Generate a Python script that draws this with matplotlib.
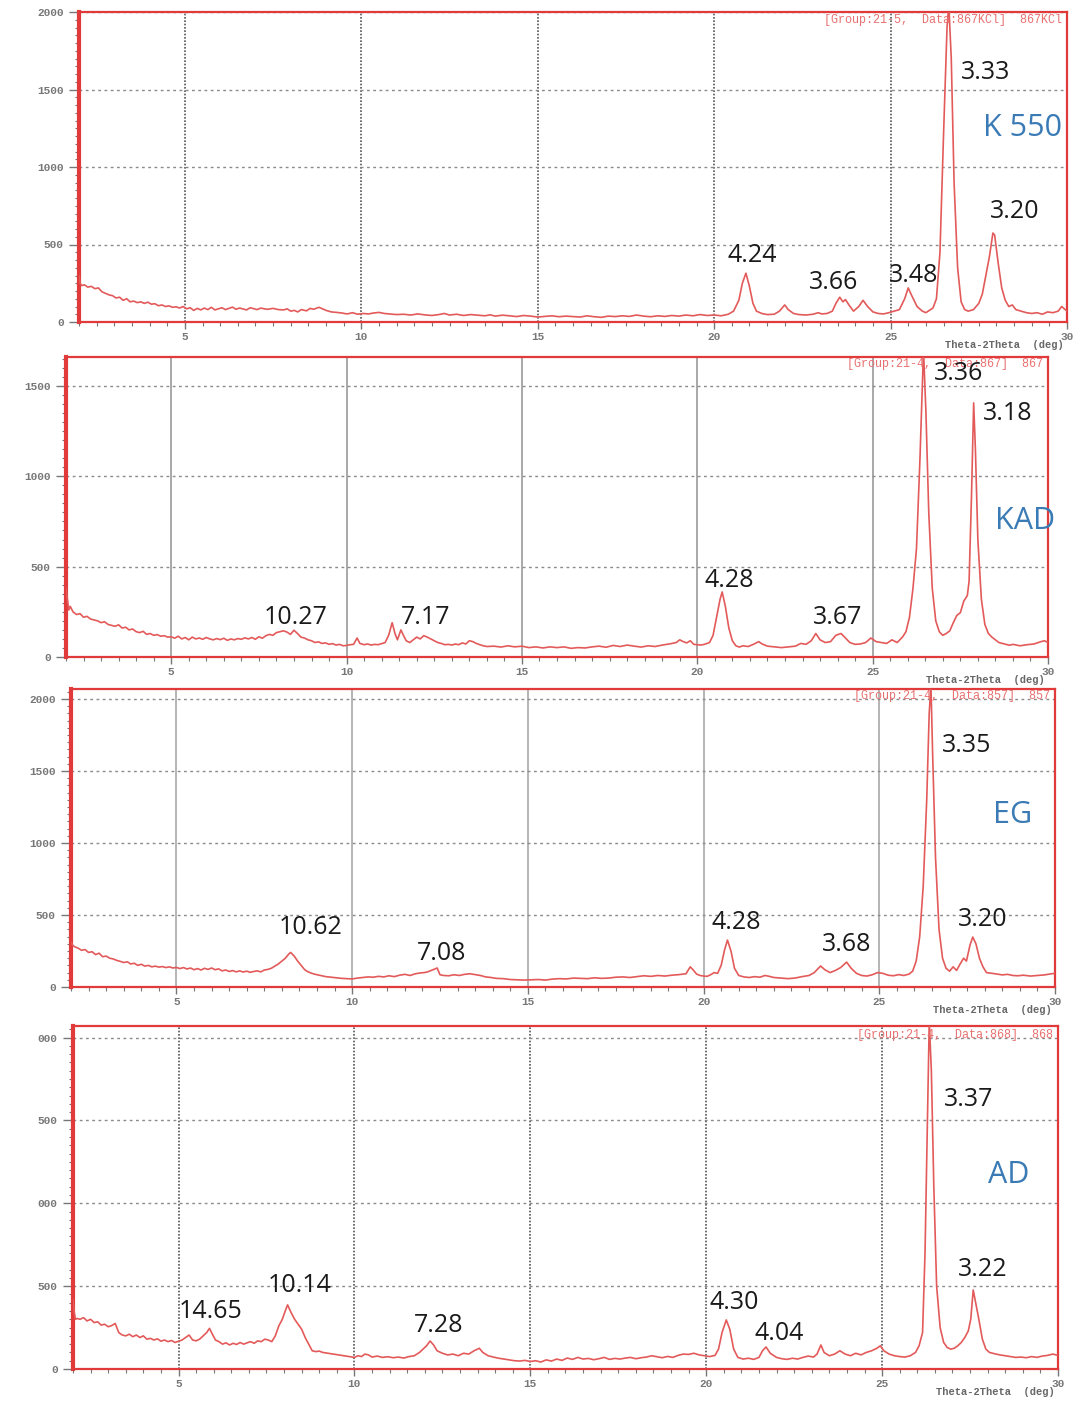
import matplotlib.pyplot as plt
from matplotlib.ticker import MultipleLocator

# XRD patterns: (2theta in deg, counts)
k550 = [(2.00, 300), (2.03, 250), (2.08, 235), (2.15, 240), (2.25, 225), (2.35, 230), (2.45, 215),
        (2.55, 220), (2.65, 195), (2.75, 185), (2.85, 175), (2.95, 170), (3.05, 155), (3.15, 160),
        (3.25, 140), (3.35, 150), (3.45, 130), (3.55, 135), (3.65, 125), (3.75, 130), (3.85, 120),
        (3.95, 128), (4.05, 115), (4.15, 118), (4.25, 105), (4.35, 110), (4.45, 100), (4.55, 104),
        (4.65, 95), (4.75, 98), (4.85, 90), (4.95, 100), (5.05, 85), (5.15, 92), (5.25, 75),
        (5.35, 88), (5.45, 78), (5.55, 90), (5.65, 80), (5.75, 95), (5.85, 78), (5.95, 85),
        (6.05, 92), (6.15, 80), (6.25, 88), (6.35, 96), (6.45, 82), (6.55, 90), (6.65, 84),
        (6.75, 78), (6.85, 92), (6.95, 86), (7.05, 80), (7.15, 90), (7.25, 85), (7.35, 82),
        (7.5, 88), (7.65, 80), (7.8, 78), (7.9, 85), (8.0, 70), (8.1, 75), (8.2, 65), (8.3, 80),
        (8.45, 72), (8.55, 88), (8.65, 82), (8.8, 95), (8.9, 85), (9.0, 75), (9.15, 65),
        (9.3, 62), (9.45, 58), (9.6, 52), (9.75, 60), (9.9, 50), (10.05, 55), (10.2, 52),
        (10.35, 58), (10.5, 62), (10.65, 55), (10.8, 52), (11.0, 48), (11.2, 50), (11.4, 45),
        (11.6, 52), (11.8, 46), (12.0, 42), (12.2, 48), (12.35, 55), (12.5, 45), (12.7, 50),
        (12.9, 42), (13.1, 48), (13.3, 44), (13.5, 40), (13.65, 46), (13.8, 38), (14.0, 44),
        (14.2, 40), (14.4, 35), (14.6, 42), (14.8, 38), (15.0, 32), (15.2, 36), (15.4, 40),
        (15.6, 34), (15.8, 38), (16.0, 35), (16.2, 32), (16.4, 40), (16.6, 34), (16.8, 30),
        (17.0, 38), (17.2, 35), (17.4, 40), (17.6, 36), (17.8, 45), (18.0, 38), (18.2, 34),
        (18.4, 40), (18.6, 36), (18.8, 42), (19.0, 38), (19.2, 45), (19.4, 40), (19.6, 48),
        (19.8, 42), (20.0, 45), (20.2, 40), (20.4, 50), (20.55, 70), (20.7, 140), (20.8, 250),
        (20.9, 315), (21.0, 230), (21.1, 120), (21.2, 70), (21.35, 55), (21.5, 48), (21.7, 50),
        (21.85, 70), (22.0, 110), (22.1, 80), (22.25, 55), (22.4, 48), (22.6, 45), (22.8, 50),
        (22.95, 60), (23.05, 52), (23.2, 55), (23.35, 70), (23.45, 120), (23.56, 160),
        (23.65, 130), (23.72, 145), (23.82, 110), (23.95, 70), (24.1, 100), (24.22, 140),
        (24.35, 100), (24.5, 65), (24.65, 55), (24.8, 52), (24.95, 60), (25.1, 70), (25.25, 80),
        (25.4, 150), (25.5, 220), (25.6, 170), (25.75, 100), (25.9, 70), (26.0, 60), (26.1, 75),
        (26.2, 90), (26.3, 150), (26.4, 450), (26.5, 1200), (26.6, 1900), (26.65, 2050),
        (26.72, 1700), (26.8, 900), (26.9, 350), (27.0, 130), (27.1, 80), (27.2, 70),
        (27.35, 80), (27.5, 120), (27.6, 180), (27.7, 300), (27.8, 420), (27.9, 574),
        (27.95, 560), (28.05, 380), (28.15, 220), (28.25, 140), (28.35, 100), (28.45, 110),
        (28.55, 80), (28.7, 70), (28.85, 60), (29.0, 55), (29.15, 60), (29.3, 50), (29.45, 65),
        (29.6, 60), (29.75, 70), (29.85, 100), (29.95, 80), (30.0, 70)]

kad = [(2.00, 380), (2.04, 320), (2.08, 260), (2.12, 280), (2.2, 250), (2.3, 235), (2.4, 240),
       (2.5, 220), (2.6, 225), (2.7, 210), (2.8, 205), (2.9, 200), (3.0, 190), (3.1, 195),
       (3.2, 180), (3.3, 175), (3.4, 170), (3.5, 178), (3.6, 160), (3.7, 165), (3.8, 150),
       (3.9, 155), (4.0, 140), (4.1, 135), (4.2, 142), (4.3, 125), (4.4, 130), (4.5, 120),
       (4.6, 124), (4.7, 115), (4.8, 118), (4.9, 110), (5.0, 112), (5.1, 104), (5.2, 115),
       (5.3, 100), (5.4, 108), (5.5, 95), (5.6, 110), (5.7, 100), (5.8, 105), (5.9, 98),
       (6.0, 108), (6.1, 100), (6.2, 95), (6.3, 102), (6.4, 96), (6.5, 104), (6.6, 92),
       (6.7, 100), (6.8, 95), (6.9, 102), (7.0, 98), (7.1, 106), (7.2, 100), (7.3, 108),
       (7.4, 98), (7.5, 112), (7.6, 104), (7.7, 118), (7.8, 125), (7.9, 120), (8.0, 135),
       (8.1, 140), (8.2, 145), (8.3, 138), (8.4, 125), (8.5, 148), (8.6, 130), (8.7, 110),
       (8.8, 105), (8.9, 95), (9.0, 90), (9.1, 80), (9.2, 84), (9.3, 75), (9.4, 78), (9.5, 70),
       (9.6, 74), (9.7, 66), (9.8, 70), (9.9, 62), (10.0, 64), (10.1, 68), (10.2, 70),
       (10.3, 105), (10.38, 75), (10.5, 68), (10.6, 72), (10.7, 66), (10.8, 70), (10.9, 68),
       (11.0, 74), (11.1, 80), (11.2, 120), (11.3, 190), (11.38, 130), (11.45, 95),
       (11.55, 150), (11.62, 120), (11.7, 90), (11.8, 80), (11.9, 95), (12.0, 110),
       (12.1, 100), (12.2, 118), (12.3, 110), (12.4, 100), (12.5, 90), (12.6, 80), (12.7, 75),
       (12.8, 68), (12.9, 70), (13.0, 66), (13.1, 72), (13.2, 68), (13.3, 78), (13.4, 72),
       (13.5, 90), (13.6, 85), (13.7, 75), (13.8, 68), (13.9, 62), (14.0, 58), (14.2, 60),
       (14.4, 55), (14.6, 62), (14.8, 56), (15.0, 60), (15.2, 52), (15.4, 56), (15.6, 50),
       (15.8, 56), (16.0, 52), (16.2, 56), (16.4, 48), (16.6, 52), (16.8, 50), (17.0, 56),
       (17.2, 60), (17.4, 54), (17.6, 64), (17.8, 58), (18.0, 66), (18.2, 60), (18.4, 55),
       (18.6, 62), (18.8, 58), (19.0, 66), (19.2, 72), (19.4, 80), (19.5, 95), (19.6, 85),
       (19.7, 78), (19.8, 90), (19.9, 70), (20.0, 68), (20.1, 66), (20.2, 70), (20.35, 80),
       (20.45, 120), (20.55, 220), (20.65, 320), (20.71, 360), (20.8, 280), (20.9, 160),
       (21.0, 90), (21.1, 62), (21.2, 55), (21.3, 62), (21.45, 58), (21.6, 70), (21.75, 85),
       (21.85, 72), (22.0, 60), (22.2, 56), (22.4, 52), (22.6, 56), (22.8, 60), (22.95, 75),
       (23.1, 70), (23.25, 90), (23.38, 130), (23.5, 95), (23.65, 80), (23.8, 85),
       (23.95, 120), (24.1, 130), (24.2, 110), (24.35, 80), (24.5, 70), (24.65, 72),
       (24.8, 80), (24.95, 105), (25.1, 85), (25.25, 80), (25.4, 75), (25.55, 95), (25.7, 80),
       (25.85, 110), (25.95, 140), (26.05, 220), (26.15, 380), (26.25, 600), (26.35, 1100),
       (26.45, 1700), (26.52, 1350), (26.6, 800), (26.7, 380), (26.8, 200), (26.9, 140),
       (27.0, 120), (27.1, 130), (27.2, 145), (27.3, 190), (27.4, 230), (27.5, 245),
       (27.6, 310), (27.7, 340), (27.75, 420), (27.82, 900), (27.88, 1406), (27.93, 1150),
       (28.0, 650), (28.1, 320), (28.2, 180), (28.3, 130), (28.4, 110), (28.5, 95), (28.6, 80),
       (28.7, 75), (28.8, 70), (28.9, 65), (29.0, 70), (29.2, 62), (29.4, 68), (29.6, 72),
       (29.8, 85), (29.9, 90), (30.0, 80)]

eg = [(2.00, 310), (2.05, 290), (2.1, 280), (2.2, 270), (2.3, 255), (2.4, 260), (2.5, 240),
      (2.6, 245), (2.7, 225), (2.8, 235), (2.9, 210), (3.0, 215), (3.1, 200), (3.2, 195),
      (3.3, 185), (3.4, 178), (3.5, 170), (3.6, 175), (3.7, 160), (3.8, 165), (3.9, 150),
      (4.0, 158), (4.1, 145), (4.2, 150), (4.3, 140), (4.4, 145), (4.5, 138), (4.6, 142),
      (4.7, 135), (4.8, 140), (4.9, 132), (5.0, 136), (5.1, 128), (5.2, 135), (5.3, 125),
      (5.4, 132), (5.5, 120), (5.6, 128), (5.7, 118), (5.8, 130), (5.9, 122), (6.0, 132),
      (6.1, 120), (6.2, 126), (6.3, 112), (6.4, 118), (6.5, 108), (6.6, 114), (6.7, 105),
      (6.8, 112), (6.9, 104), (7.0, 110), (7.1, 102), (7.2, 108), (7.3, 112), (7.4, 105),
      (7.5, 118), (7.6, 122), (7.7, 130), (7.8, 145), (7.9, 160), (8.0, 180), (8.1, 200),
      (8.2, 230), (8.25, 240), (8.35, 215), (8.45, 180), (8.55, 150), (8.65, 120),
      (8.75, 105), (8.85, 95), (8.95, 88), (9.1, 80), (9.25, 72), (9.4, 68), (9.55, 64),
      (9.7, 60), (9.85, 58), (10.0, 56), (10.15, 62), (10.3, 66), (10.45, 70), (10.6, 68),
      (10.75, 74), (10.9, 70), (11.05, 78), (11.2, 72), (11.35, 82), (11.5, 88), (11.65, 80),
      (11.8, 92), (11.95, 98), (12.05, 100), (12.15, 105), (12.3, 120), (12.42, 132),
      (12.5, 85), (12.6, 80), (12.75, 78), (12.9, 85), (13.05, 80), (13.2, 88), (13.35, 92),
      (13.5, 86), (13.65, 80), (13.8, 70), (13.95, 66), (14.1, 60), (14.3, 58), (14.5, 52),
      (14.7, 50), (14.9, 48), (15.1, 50), (15.3, 52), (15.5, 48), (15.7, 55), (15.9, 58),
      (16.1, 56), (16.3, 62), (16.5, 60), (16.7, 58), (16.9, 64), (17.1, 60), (17.3, 62),
      (17.5, 68), (17.7, 70), (17.9, 66), (18.1, 72), (18.3, 78), (18.5, 74), (18.7, 80),
      (18.9, 76), (19.1, 82), (19.3, 86), (19.5, 92), (19.62, 140), (19.7, 120), (19.8, 90),
      (19.9, 80), (20.0, 76), (20.1, 74), (20.2, 85), (20.3, 100), (20.4, 95), (20.5, 150),
      (20.6, 260), (20.68, 326), (20.78, 250), (20.88, 130), (21.0, 80), (21.15, 70),
      (21.3, 66), (21.45, 72), (21.6, 68), (21.75, 80), (21.85, 75), (22.0, 66), (22.2, 62),
      (22.4, 58), (22.6, 62), (22.8, 72), (23.0, 80), (23.15, 100), (23.33, 146),
      (23.45, 120), (23.6, 100), (23.75, 115), (23.9, 135), (24.07, 173), (24.2, 130),
      (24.35, 95), (24.5, 80), (24.65, 76), (24.8, 85), (24.95, 100), (25.1, 95), (25.25, 82),
      (25.4, 78), (25.55, 86), (25.7, 80), (25.85, 90), (25.95, 110), (26.05, 180),
      (26.15, 350), (26.25, 700), (26.35, 1300), (26.42, 1900), (26.47, 2100), (26.52, 1600),
      (26.6, 900), (26.7, 400), (26.8, 200), (26.9, 130), (27.0, 110), (27.1, 140),
      (27.2, 115), (27.3, 160), (27.4, 200), (27.48, 180), (27.58, 290), (27.66, 347),
      (27.75, 300), (27.85, 200), (27.95, 140), (28.05, 100), (28.2, 95), (28.35, 90),
      (28.5, 84), (28.65, 88), (28.8, 80), (28.95, 78), (29.1, 82), (29.3, 76), (29.5, 80),
      (29.7, 84), (29.85, 90), (30.0, 95)]

ad = [(2.00, 420), (2.03, 350), (2.07, 300), (2.12, 305), (2.2, 300), (2.3, 310), (2.4, 290),
      (2.5, 300), (2.6, 280), (2.7, 285), (2.8, 265), (2.9, 270), (3.0, 255), (3.1, 262),
      (3.2, 275), (3.3, 220), (3.4, 205), (3.5, 200), (3.6, 210), (3.7, 195), (3.8, 205),
      (3.9, 190), (4.0, 200), (4.1, 180), (4.2, 185), (4.3, 175), (4.4, 182), (4.5, 168),
      (4.6, 175), (4.7, 165), (4.8, 172), (4.9, 160), (5.0, 168), (5.1, 175), (5.2, 190),
      (5.3, 205), (5.4, 175), (5.5, 170), (5.6, 180), (5.7, 200), (5.8, 220), (5.88, 245),
      (5.95, 215), (6.05, 175), (6.15, 165), (6.25, 150), (6.35, 158), (6.45, 145),
      (6.55, 155), (6.65, 148), (6.75, 160), (6.85, 150), (6.95, 158), (7.05, 165),
      (7.15, 155), (7.25, 170), (7.35, 165), (7.45, 180), (7.55, 175), (7.65, 165),
      (7.75, 200), (7.85, 260), (7.95, 300), (8.05, 360), (8.1, 387), (8.2, 340), (8.3, 300),
      (8.4, 270), (8.5, 240), (8.6, 190), (8.7, 150), (8.8, 110), (8.9, 105), (9.0, 108),
      (9.1, 100), (9.25, 95), (9.4, 90), (9.55, 85), (9.7, 80), (9.85, 75), (10.0, 70),
      (10.1, 80), (10.2, 75), (10.3, 90), (10.4, 85), (10.5, 72), (10.65, 78), (10.8, 70),
      (10.95, 74), (11.1, 68), (11.25, 72), (11.4, 66), (11.55, 75), (11.7, 80), (11.85, 100),
      (11.95, 120), (12.05, 140), (12.15, 169), (12.25, 145), (12.35, 110), (12.5, 95),
      (12.65, 85), (12.8, 90), (12.95, 80), (13.1, 95), (13.25, 90), (13.4, 110),
      (13.55, 125), (13.65, 100), (13.8, 80), (13.95, 72), (14.1, 65), (14.25, 60),
      (14.4, 55), (14.55, 50), (14.7, 48), (14.85, 52), (15.0, 45), (15.15, 50), (15.3, 42),
      (15.45, 55), (15.6, 48), (15.75, 60), (15.9, 52), (16.05, 66), (16.2, 58), (16.35, 70),
      (16.5, 60), (16.65, 64), (16.8, 56), (16.95, 62), (17.1, 70), (17.25, 58), (17.4, 64),
      (17.55, 60), (17.7, 66), (17.85, 70), (18.0, 62), (18.15, 68), (18.3, 72), (18.45, 80),
      (18.6, 74), (18.75, 68), (18.9, 76), (19.05, 70), (19.2, 82), (19.35, 90), (19.5, 88),
      (19.65, 95), (19.8, 85), (19.95, 80), (20.1, 75), (20.25, 82), (20.35, 120),
      (20.45, 220), (20.57, 296), (20.67, 240), (20.78, 120), (20.9, 70), (21.05, 60),
      (21.2, 65), (21.35, 58), (21.5, 70), (21.6, 110), (21.7, 133), (21.82, 95), (22.0, 70),
      (22.15, 62), (22.3, 58), (22.45, 65), (22.6, 60), (22.75, 70), (22.9, 78), (23.05, 72),
      (23.15, 90), (23.26, 145), (23.35, 100), (23.5, 80), (23.65, 90), (23.8, 110),
      (23.95, 90), (24.1, 80), (24.25, 95), (24.4, 85), (24.55, 100), (24.7, 110),
      (24.85, 125), (24.95, 140), (25.05, 110), (25.2, 90), (25.35, 80), (25.5, 75),
      (25.65, 72), (25.8, 80), (25.95, 100), (26.05, 140), (26.15, 220), (26.22, 700),
      (26.28, 1400), (26.34, 2100), (26.4, 1800), (26.47, 1100), (26.55, 500), (26.65, 250),
      (26.75, 160), (26.85, 130), (26.95, 120), (27.05, 125), (27.15, 140), (27.25, 160),
      (27.35, 190), (27.45, 230), (27.52, 300), (27.59, 477), (27.66, 400), (27.75, 300),
      (27.85, 180), (27.95, 120), (28.05, 100), (28.2, 92), (28.35, 85), (28.5, 80),
      (28.65, 75), (28.8, 70), (28.95, 72), (29.1, 68), (29.25, 75), (29.4, 70), (29.55, 78),
      (29.7, 82), (29.85, 90), (29.95, 85), (30.0, 80)]

sample_names = ["K 550", "KAD", "EG", "AD"]
group_tags = ["[Group:21-5,  Data:867KCl]  867KCl", "[Group:21-4,  Data:867]  867",
              "[Group:21-4,  Data:857]  857", "[Group:21-4,  Data:868]  868"]

# d-spacing labels (Angstrom) and where they sit (2theta, counts)
k550_d = ["4.24", "3.66", "3.48", "3.33", "3.20"]
k550_d_at = [(20.37, 426), (22.68, 258), (24.94, 303), (27.0, 1612), (27.82, 710)]
kad_d = ["10.27", "7.17", "4.28", "3.67", "3.36", "3.18"]
kad_d_at = [(7.64, 221), (11.56, 221), (20.2, 426), (23.3, 221), (26.76, 1566), (28.15, 1350)]
eg_d = ["10.62", "7.08", "4.28", "3.68", "3.35", "3.20"]
eg_d_at = [(7.91, 416), (11.84, 236), (20.23, 451), (23.36, 298), (26.78, 1679), (27.23, 472)]
ad_d = ["14.65", "10.14", "7.28", "4.30", "4.04", "3.37", "3.22"]
ad_d_at = [(5.0, 344), (7.54, 501), (11.7, 260), (20.08, 399), (21.38, 217), (26.75, 1625),
           (27.15, 598)]

yticks = [[0, 500, 1000, 1500, 2000], [0, 500, 1000, 1500],
          [0, 500, 1000, 1500, 2000], [0, 500, 1000, 1500, 2000]]
ytick_text = [["0", "500", "1000", "1500", "2000"], ["0", "500", "1000", "1500"],
              ["0", "500", "1000", "1500", "2000"], ["0", "500", "000", "500", "000"]]

W, H = 1079, 1401
# axes boxes in pixels: left, right, top, bottom
boxes = [(79, 1067, 12, 322), (66, 1048, 357, 657), (71, 1055, 689, 987), (73, 1058, 1026, 1369)]
ytops = [2000, 1660, 2070, 2070]
name_at = [(27.63, 1251), (28.49, 753), (28.25, 1194), (28.0, 1172)]
vgrid_style = [(0, (1, 1)), "-", "-", (0, (1, 1))]
vgrid_color = ["#555555", "#9a9a9a", "#a8a8a8", "#555555"]

RED = "#e03a3a"
LINE = "#e35a5a"
BLUE = "#3b7bb5"
MONO = "Liberation Mono"

fig = plt.figure(figsize=(W / 100, H / 100), dpi=100)
fig.patch.set_facecolor("white")

series = [k550, kad, eg, ad]
dlabels = [(k550_d, k550_d_at), (kad_d, kad_d_at), (eg_d, eg_d_at), (ad_d, ad_d_at)]

for i in range(4):
    l, r, t, b = boxes[i]
    ax = fig.add_axes([l / W, (H - b) / H, (r - l) / W, (b - t) / H])
    tth = [p[0] for p in series[i]]
    cps = [p[1] for p in series[i]]
    ax.plot(tth, cps, color=LINE, lw=1.2, zorder=3)
    ax.set_xlim(2.0, 30)
    ax.set_ylim(0, ytops[i])

    for xv in [5, 10, 15, 20, 25]:
        ax.axvline(xv, color=vgrid_color[i], lw=1.2, ls=vgrid_style[i], zorder=1)
    for yv in yticks[i][1:]:
        ax.axhline(yv, color="#8a8a8a", lw=1.0, ls=(0, (2, 2.5)), zorder=1)

    for side in ["top", "right", "bottom"]:
        ax.spines[side].set_color(RED)
        ax.spines[side].set_linewidth(1.6)
    ax.spines["left"].set_color(RED)
    ax.spines["left"].set_linewidth(3.0)

    ax.set_xticks([5, 10, 15, 20, 25, 30])
    ax.xaxis.set_minor_locator(MultipleLocator(0.5))
    ax.set_yticks(yticks[i])
    ax.set_yticklabels(ytick_text[i])
    ax.yaxis.set_minor_locator(MultipleLocator(50))
    ax.tick_params(axis="both", which="major", colors="#777777", labelsize=8,
                   length=5, width=1.0, pad=2)
    ax.tick_params(axis="y", which="major", length=7, pad=4)
    ax.tick_params(axis="both", which="minor", colors="#777777", length=3, width=0.8)
    for lab in ax.get_xticklabels() + ax.get_yticklabels():
        lab.set_fontfamily(MONO)
        lab.set_fontweight("bold")

    ax.text(0.995, 0.975, group_tags[i], transform=ax.transAxes, ha="right", va="center",
            fontsize=8.5, family=MONO, color="#e87070")
    ax.text(0.997, -23 / (b - t), "Theta-2Theta  (deg)", transform=ax.transAxes, ha="right",
            va="center", fontsize=7.5, family=MONO, color="#666666", fontweight="bold")

    for txt, (xv, yv) in zip(*dlabels[i]):
        ax.text(xv, yv, txt, ha="left", va="center", fontsize=18, family="Open Sans",
                color="#1a1a1a", zorder=5)
    ax.text(name_at[i][0], name_at[i][1], sample_names[i], ha="left", va="center",
            fontsize=22, family="Open Sans", color=BLUE, zorder=5)

fig.savefig("out.png", dpi=100, facecolor="white")
